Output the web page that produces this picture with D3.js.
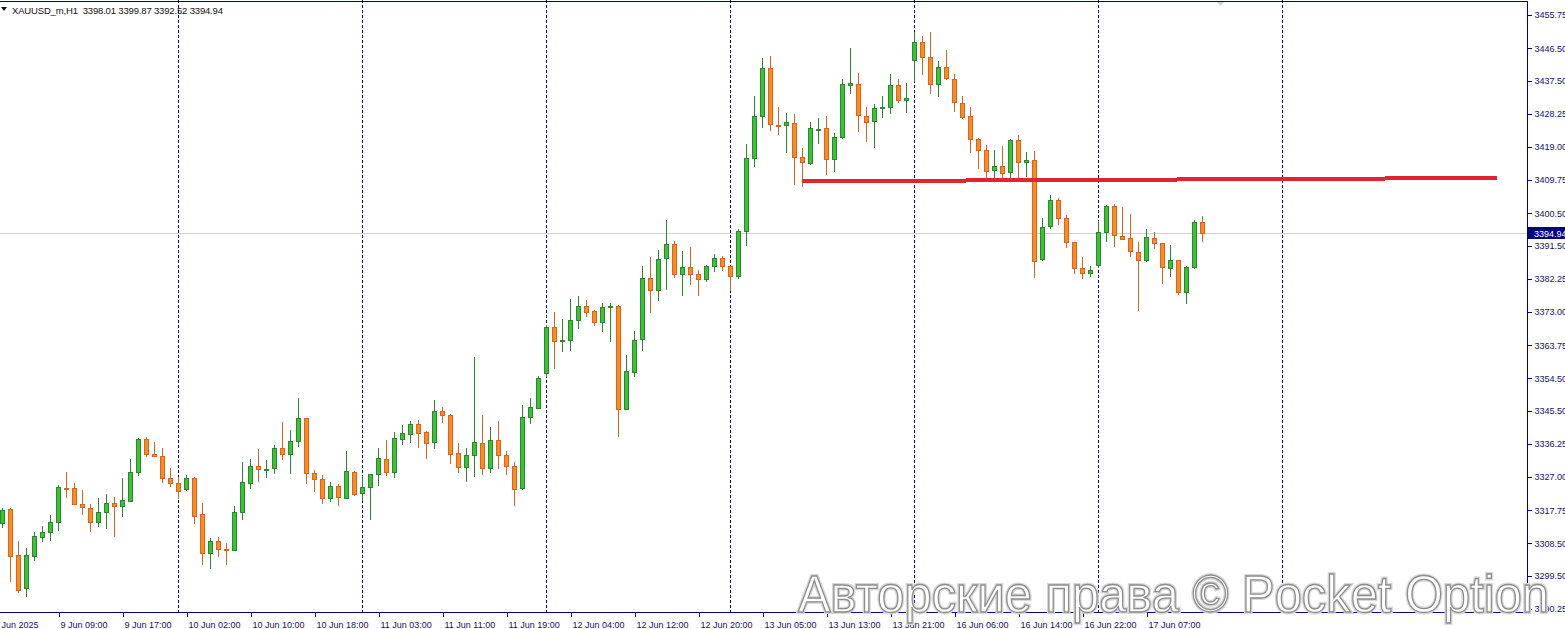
<!DOCTYPE html>
<html>
<head>
<meta charset="utf-8">
<script src="https://cdn.jsdelivr.net/npm/d3@7"></script>
<style>
html,body{margin:0;padding:0;background:#fff;overflow:hidden;}
svg{display:block;}
</style>
</head>
<body>
<svg id="chart" width="1565" height="629"></svg>
<script>
// ---------- DATA (XAUUSD_m, H1) ----------
const symbolTitle = "XAUUSD_m,H1";
const opens  = [3314.30,3318.12,3305.30,3296.02,3305.10,3310.40,3311.62,3314.41,3323.96,3323.88,
3319.42,3318.31,3314.41,3317.20,3319.70,3319.03,3320.43,3328.34,3337.53,3333.35,
3332.80,3326.66,3325.27,3323.60,3326.66,3316.73,3305.94,3309.12,3307.09,3306.69,
3317.20,3325.27,3330.02,3329.15,3329.45,3335.02,3333.35,3336.98,3343.39,3328.06,
3326.39,3321.10,3324.44,3321.26,3328.34,3322.49,3324.16,3327.78,3331.96,3328.34,
3337.70,3339.09,3341.71,3339.48,3336.87,3345.34,3344.22,3333.63,3329.73,3333.07,
3336.42,3329.62,3337.26,3333.07,3330.02,3324.05,3343.83,3346.34,3356.09,3368.82,
3365.12,3365.28,3370.69,3374.59,3373.19,3370.13,3374.40,3374.67,3345.89,3356.37,
3365.39,3382.39,3379.05,3387.96,3391.95,3383.50,3385.45,3383.50,3382.28,3385.73,
3387.96,3385.73,3383.12,3395.65,3415.82,3427.53,3440.90,3425.19,3425.02,3425.58,
3416.10,3414.60,3423.82,3424.18,3415.55,3421.84,3436.16,3436.44,3427.53,3426.13,
3429.84,3430.03,3436.16,3431.98,3443.13,3448.14,3443.96,3436.44,3441.18,3437.84,
3431.15,3427.53,3421.12,3418.05,3412.48,3413.59,3411.92,3420.84,3414.71,3415.27,
3387.85,3396.88,3404.12,3399.11,3392.42,3385.17,3383.78,3386.01,3395.21,3402.45,
3394.09,3393.54,3389.63,3387.41,3393.54,3392.14,3385.17,3387.41,3378.49,3385.45,
3398.01];
const highs  = [3318.40,3318.31,3309.20,3307.17,3311.62,3313.37,3316.36,3324.80,3328.42,3325.27,
3323.41,3319.51,3321.18,3322.30,3321.38,3326.66,3331.96,3337.76,3338.09,3336.70,
3335.02,3329.45,3327.11,3327.50,3326.89,3319.78,3310.04,3310.40,3308.64,3318.95,
3331.21,3332.05,3334.83,3331.77,3335.94,3342.35,3340.12,3349.04,3343.45,3328.98,
3327.59,3325.55,3324.99,3334.27,3328.79,3327.23,3327.92,3335.02,3337.34,3339.48,
3341.43,3342.63,3342.83,3339.76,3348.48,3346.54,3344.50,3336.50,3335.11,3360.47,
3344.31,3340.96,3342.63,3334.19,3331.13,3347.00,3348.95,3355.09,3369.38,3373.00,
3371.05,3376.62,3377.46,3376.34,3373.56,3375.59,3375.42,3374.87,3361.02,3367.71,
3385.82,3388.33,3390.28,3398.63,3392.78,3390.00,3391.11,3384.70,3386.10,3389.24,
3388.69,3385.82,3396.21,3419.72,3433.18,3443.77,3444.33,3430.03,3428.36,3428.08,
3418.61,3425.86,3426.97,3427.53,3422.79,3437.92,3446.56,3439.59,3430.03,3430.90,
3433.18,3439.23,3437.92,3436.80,3450.93,3449.82,3451.01,3442.85,3446.00,3439.23,
3433.18,3430.03,3421.40,3419.53,3418.05,3419.17,3421.12,3422.32,3417.66,3417.86,
3399.11,3405.68,3404.76,3400.03,3392.50,3388.24,3385.73,3398.27,3402.73,3403.01,
3402.17,3400.31,3392.42,3396.04,3395.21,3392.22,3391.58,3387.49,3385.73,3398.55,
3399.87];
const lows   = [3312.90,3297.86,3294.80,3293.51,3303.71,3309.01,3309.29,3312.07,3321.26,3319.37,
3316.45,3311.79,3313.18,3312.62,3310.40,3315.81,3320.15,3327.23,3332.69,3332.52,
3325.44,3324.32,3320.90,3323.22,3313.94,3302.51,3301.40,3304.82,3302.51,3306.50,
3315.13,3323.77,3325.72,3326.83,3327.95,3331.85,3327.95,3335.30,3325.16,3322.94,
3319.59,3320.15,3319.03,3320.90,3321.82,3320.26,3315.13,3324.52,3327.39,3326.83,
3336.03,3336.59,3335.19,3332.05,3334.91,3342.16,3330.74,3328.23,3325.72,3327.11,
3327.67,3328.23,3329.34,3327.67,3319.03,3323.49,3341.88,3346.26,3354.98,3357.20,
3361.94,3362.22,3368.35,3371.52,3369.18,3367.51,3364.73,3338.26,3345.84,3354.98,
3362.22,3372.81,3376.15,3379.13,3382.56,3377.46,3380.61,3377.46,3381.36,3384.23,
3384.51,3378.94,3382.28,3391.47,3413.48,3424.35,3423.51,3422.40,3417.39,3408.30,
3407.75,3414.04,3419.72,3411.25,3412.09,3421.29,3433.66,3423.24,3420.45,3418.83,
3427.14,3428.25,3431.32,3428.53,3436.99,3439.12,3433.82,3432.82,3437.56,3428.81,
3426.69,3417.39,3412.76,3410.25,3410.25,3410.25,3410.25,3410.25,3410.75,3382.56,
3387.13,3396.13,3397.16,3390.75,3383.67,3382.28,3382.84,3385.17,3392.59,3391.19,
3392.98,3388.24,3373.36,3386.85,3390.47,3380.89,3382.84,3377.65,3375.31,3385.06,
3392.52];
const closes = [3317.84,3305.10,3295.63,3305.30,3310.59,3311.62,3314.49,3324.16,3323.79,3319.42,
3318.59,3314.41,3317.20,3319.70,3318.87,3320.54,3328.34,3337.53,3333.35,3332.80,
3326.83,3325.27,3323.22,3326.66,3316.25,3305.94,3309.12,3307.06,3306.86,3317.20,
3325.55,3330.02,3329.17,3329.32,3335.02,3333.35,3336.98,3343.39,3328.06,3326.39,
3321.10,3324.44,3321.38,3328.70,3322.38,3324.16,3327.78,3332.24,3328.34,3337.81,
3339.20,3341.71,3339.37,3336.59,3345.34,3344.22,3333.35,3329.73,3333.07,3336.70,
3329.45,3337.26,3333.07,3330.02,3323.77,3343.67,3346.45,3354.53,3368.82,3365.00,
3365.28,3370.69,3374.59,3372.92,3370.13,3374.31,3374.56,3345.89,3356.48,3365.12,
3382.39,3379.05,3387.68,3391.95,3383.50,3385.45,3383.50,3382.28,3385.82,3387.96,
3385.73,3383.12,3395.57,3415.82,3427.53,3440.90,3425.30,3425.02,3425.86,3416.10,
3414.71,3424.18,3423.99,3415.55,3421.84,3436.44,3436.72,3427.80,3425.86,3429.75,
3430.01,3436.16,3431.98,3432.54,3448.14,3443.96,3436.44,3441.18,3438.11,3431.43,
3427.25,3421.12,3418.05,3412.20,3413.59,3411.65,3420.84,3414.71,3415.27,3387.13,
3396.60,3404.12,3399.11,3392.42,3385.17,3383.78,3384.62,3395.21,3402.45,3394.37,
3393.26,3389.91,3387.41,3393.81,3392.14,3385.45,3387.41,3378.49,3385.45,3398.00,
3394.94];

const priceTicks = [3455.75,3446.50,3437.50,3428.25,3419.00,3409.75,3400.50,3391.50,3382.25,
3373.00,3363.75,3354.50,3345.50,3336.25,3327.00,3317.75,3308.50,3299.50,3290.25];

const timeLabelBars = [-1,7,15,23,31,39,47,55,63,71,79,87,95,103,111,119,127,135,143];
const timeLabels = ["9 Jun 2025","9 Jun 09:00","9 Jun 17:00","10 Jun 02:00","10 Jun 10:00",
"10 Jun 18:00","11 Jun 03:00","11 Jun 11:00","11 Jun 19:00","12 Jun 04:00","12 Jun 12:00",
"12 Jun 20:00","13 Jun 05:00","13 Jun 13:00","13 Jun 21:00","16 Jun 06:00","16 Jun 14:00",
"16 Jun 22:00","17 Jun 07:00"];

const separatorBars = [22,45,68,91,114,137,160];

const trendBars = [100, 186.9];
const trendPrices = [3409.42, 3410.34];

const watermarkText = "Авторские права © Pocket Option";

// ---------- CHART ----------
const W = 1565, H = 629;
const plotRight = 1527, axisY = 612;
const FONT = "'Liberation Sans', Arial, sans-serif";

const svg = d3.select("#chart");
const x = d3.scaleLinear().domain([0, 1]).range([2, 10]);
const y = d3.scaleLinear().domain([3455.75, 3290.25]).range([15, 609]);

const bars = opens.map((o, i) => ({i, o, h: highs[i], l: lows[i], c: closes[i]}));

svg.append("defs").append("clipPath").attr("id", "plotclip")
  .append("rect").attr("x", 0).attr("y", 0).attr("width", plotRight).attr("height", axisY);

const plot = svg.append("g").attr("clip-path", "url(#plotclip)");

// period separators
plot.selectAll("line.sep").data(separatorBars).join("line")
  .attr("class", "sep")
  .attr("x1", d => Math.round(x(d)) + 0.5).attr("x2", d => Math.round(x(d)) + 0.5)
  .attr("y1", 0).attr("y2", axisY)
  .attr("stroke", "#000080").attr("stroke-width", 1)
  .attr("stroke-dasharray", "3,2").attr("shape-rendering", "crispEdges");

// current price line
const lastClose = closes[closes.length - 1];
plot.append("line")
  .attr("x1", 0).attr("x2", plotRight)
  .attr("y1", Math.round(y(lastClose)) + 0.5).attr("y2", Math.round(y(lastClose)) + 0.5)
  .attr("stroke", "#d0d0d0").attr("stroke-width", 1).attr("shape-rendering", "crispEdges");

const GREEN_FILL = "#35c435", GREEN_LINE = "#2a8a2a";
const ORANGE_FILL = "#ff8c1a", ORANGE_LINE = "#e4601a";

const candles = plot.selectAll("g.candle").data(bars).join("g").attr("class", "candle")
  .attr("shape-rendering", "crispEdges");

candles.append("rect")
  .attr("x", d => Math.round(x(d.i)))
  .attr("y", d => Math.round(y(d.h)))
  .attr("width", 1)
  .attr("height", d => Math.max(1, Math.round(y(d.l)) - Math.round(y(d.h))))
  .attr("fill", d => d.c >= d.o ? GREEN_LINE : ORANGE_LINE);

candles.append("rect")
  .attr("x", d => Math.round(x(d.i)) - 2)
  .attr("y", d => Math.round(y(Math.max(d.o, d.c))))
  .attr("width", 5)
  .attr("height", d => Math.max(2, Math.round(y(Math.min(d.o, d.c))) - Math.round(y(Math.max(d.o, d.c))) + 1))
  .attr("fill", d => d.c >= d.o ? GREEN_LINE : ORANGE_LINE);

candles.filter(d => Math.round(y(Math.min(d.o, d.c))) - Math.round(y(Math.max(d.o, d.c))) >= 2)
  .append("rect")
  .attr("x", d => Math.round(x(d.i)) - 1)
  .attr("y", d => Math.round(y(Math.max(d.o, d.c))) + 1)
  .attr("width", 3)
  .attr("height", d => Math.round(y(Math.min(d.o, d.c))) - Math.round(y(Math.max(d.o, d.c))) - 1)
  .attr("fill", d => d.c >= d.o ? GREEN_FILL : ORANGE_FILL);

// trend line
plot.append("path")
  .datum(trendBars.map((b, k) => [b, trendPrices[k]]))
  .attr("d", d3.line().x(d => x(d[0])).y(d => y(d[1])))
  .attr("fill", "none").attr("stroke", "#e3242f").attr("stroke-width", 4)
  .attr("shape-rendering", "crispEdges");

// chart-shift marker
svg.append("path")
  .attr("d", `M${1216},1 L${1225},1 L${1220.5},6 Z`)
  .attr("fill", "#d4d4dc");

// frame lines
svg.append("line").attr("x1", 0).attr("x2", plotRight + 0.5).attr("y1", 1.5).attr("y2", 1.5)
  .attr("stroke", "#000080").attr("shape-rendering", "crispEdges");
svg.append("line").attr("x1", plotRight + 0.5).attr("x2", plotRight + 0.5).attr("y1", 1).attr("y2", axisY + 1)
  .attr("stroke", "#000080").attr("shape-rendering", "crispEdges");
svg.append("line").attr("x1", 0).attr("x2", plotRight + 1).attr("y1", axisY + 0.5).attr("y2", axisY + 0.5)
  .attr("stroke", "#000080").attr("shape-rendering", "crispEdges");

// price axis
const yAxis = d3.axisRight(y).tickValues(priceTicks).tickSize(4).tickPadding(3)
  .tickFormat(d3.format(".2f"));
const gy = svg.append("g").attr("transform", `translate(${plotRight + 0.5},0)`).call(yAxis);
gy.select(".domain").remove();
gy.selectAll(".tick line").attr("stroke", "#000080").attr("shape-rendering", "crispEdges");
gy.selectAll(".tick text").attr("fill", "#101070").style("font-family", FONT).style("font-size", "9px");

// current price label
const py = Math.round(y(lastClose));
svg.append("rect").attr("x", plotRight + 1).attr("y", py - 6).attr("width", W - plotRight).attr("height", 12)
  .attr("fill", "#000080");
svg.append("text").attr("x", plotRight + 7).attr("y", py + 3.5)
  .attr("fill", "#ffffff").style("font-family", FONT).style("font-size", "9px")
  .text(d3.format(".2f")(lastClose));

// time axis
const xAxis = d3.axisBottom(x).tickValues(timeLabelBars).tickSize(4).tickPadding(5)
  .tickFormat((d, k) => timeLabels[k]);
const gx = svg.append("g").attr("transform", `translate(0.5,${axisY + 0.5})`).call(xAxis);
gx.select(".domain").remove();
gx.selectAll(".tick line").attr("stroke", "#000080").attr("shape-rendering", "crispEdges");
gx.selectAll(".tick text").attr("text-anchor", "start").attr("dx", (d, k) => k === 0 ? -1 : 1.5)
  .attr("fill", "#101070").style("font-family", FONT).style("font-size", "9px");

// header
svg.append("path").attr("d", "M1,7 L7,7 L4,11 Z").attr("fill", "#101010");
svg.append("text").attr("x", 12).attr("y", 14)
  .attr("fill", "#101010").style("font-family", FONT).style("font-size", "9.5px")
  .attr("textLength", 211).attr("lengthAdjust", "spacing")
  .attr("xml:space", "preserve")
  .text(`${symbolTitle}  ${d3.format(".2f")(opens[opens.length-1])} ${d3.format(".2f")(highs[highs.length-1])} ${d3.format(".2f")(lows[lows.length-1])} ${d3.format(".2f")(lastClose)}`);

// watermark
const wm = svg.append("g");
wm.append("text").attr("x", 798).attr("y", 612)
  .attr("textLength", 751).attr("lengthAdjust", "spacingAndGlyphs")
  .style("font-family", FONT).style("font-size", "52px")
  .attr("fill", "none").attr("stroke", "#d8d8d8").attr("stroke-width", 4)
  .text(watermarkText);
wm.append("text").attr("x", 798).attr("y", 612)
  .attr("textLength", 751).attr("lengthAdjust", "spacingAndGlyphs")
  .style("font-family", FONT).style("font-size", "52px")
  .attr("fill", "#ffffff").attr("stroke", "#8c8c8c").attr("stroke-width", 1.3)
  .text(watermarkText);
</script>
</body>
</html>
